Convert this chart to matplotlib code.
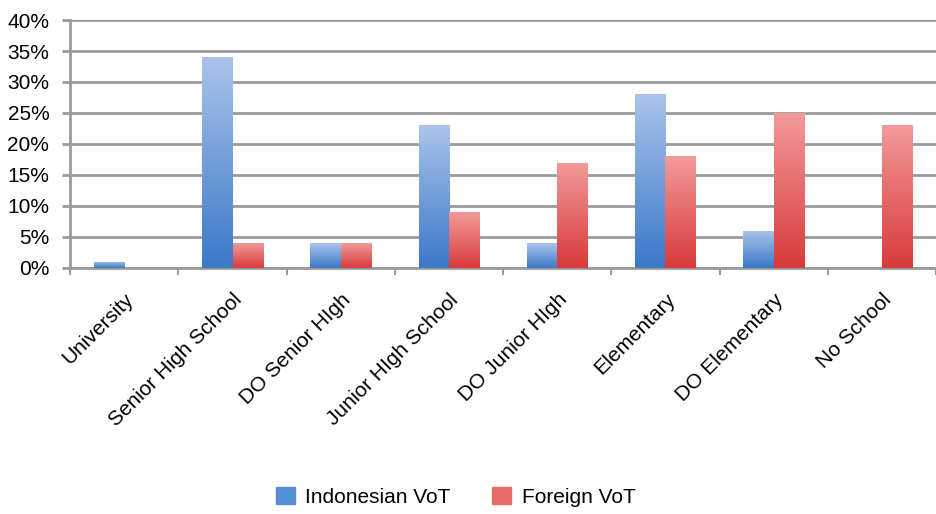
import numpy as np
import matplotlib.pyplot as plt
from matplotlib.colors import LinearSegmentedColormap
from matplotlib.patches import Patch

categories = ["University", "Senior High School", "DO Senior HIgh", "Junior HIgh School",
              "DO Junior HIgh", "Elementary", "DO Elementary", "No School"]
indonesian = [1, 34, 4, 23, 4, 28, 6, 0]
foreign = [0, 4, 4, 9, 17, 18, 25, 23]

plt.rcParams['font.family'] = ['Liberation Sans', 'DejaVu Sans']

fig = plt.figure(figsize=(9.36, 5.14), dpi=100)
ax = fig.add_axes([0.075, 0.479, 0.925, 0.482])

x = np.arange(len(categories))
w = 0.28
blue_cmap = LinearSegmentedColormap.from_list("b", ["#3b78c8", "#a9c4ea"])
red_cmap = LinearSegmentedColormap.from_list("r", ["#d93a3a", "#f29a9a"])
grad = np.linspace(0, 1, 256).reshape(-1, 1)

def gradient_bars(xs, vals, cmap):
    bars = ax.bar(xs, vals, w, color="none", edgecolor="none", zorder=3)
    for b in bars:
        h = b.get_height()
        if h <= 0:
            continue
        x0 = b.get_x()
        im = ax.imshow(grad, cmap=cmap, origin="lower", aspect="auto",
                       extent=[x0, x0 + b.get_width(), 0, h], zorder=3)
        im.set_clip_path(b)

gradient_bars(x - w / 2, indonesian, blue_cmap)
gradient_bars(x + w / 2, foreign, red_cmap)

ax.set_xlim(-0.5, len(categories) - 0.5)
ax.set_ylim(0, 40)
ax.set_yticks(range(0, 41, 5))
ax.set_yticklabels([f"{v}%" for v in range(0, 41, 5)], fontsize=15)
ax.yaxis.grid(True, color="#9a9a9a", linewidth=2)
ax.set_axisbelow(True)

ax.set_xticks(x)
ax.set_xticklabels(categories, rotation=45, ha="right", rotation_mode="anchor", fontsize=15)
ax.set_xticks(np.arange(-0.5, len(categories), 1), minor=True)
ax.tick_params(axis="x", which="major", length=0, pad=16)
ax.tick_params(axis="x", which="minor", length=5, color="#9a9a9a", width=1.5)
ax.tick_params(axis="y", length=6, color="#9a9a9a", width=2, pad=9)

for s in ["top", "right"]:
    ax.spines[s].set_visible(False)
ax.spines["left"].set_color("#9a9a9a")
ax.spines["left"].set_linewidth(2)
ax.spines["bottom"].set_color("#9a9a9a")
ax.spines["bottom"].set_linewidth(2)

handles = [Patch(color="#558ed5", label="Indonesian VoT"),
           Patch(color="#e66c6c", label="Foreign VoT")]
fig.legend(handles=handles, loc="center", bbox_to_anchor=(0.487, 0.033), ncol=2,
           frameon=False, fontsize=15, handlelength=0.9, handleheight=0.9,
           handletextpad=0.5, columnspacing=2.0)

fig.savefig("out.png", dpi=100)
